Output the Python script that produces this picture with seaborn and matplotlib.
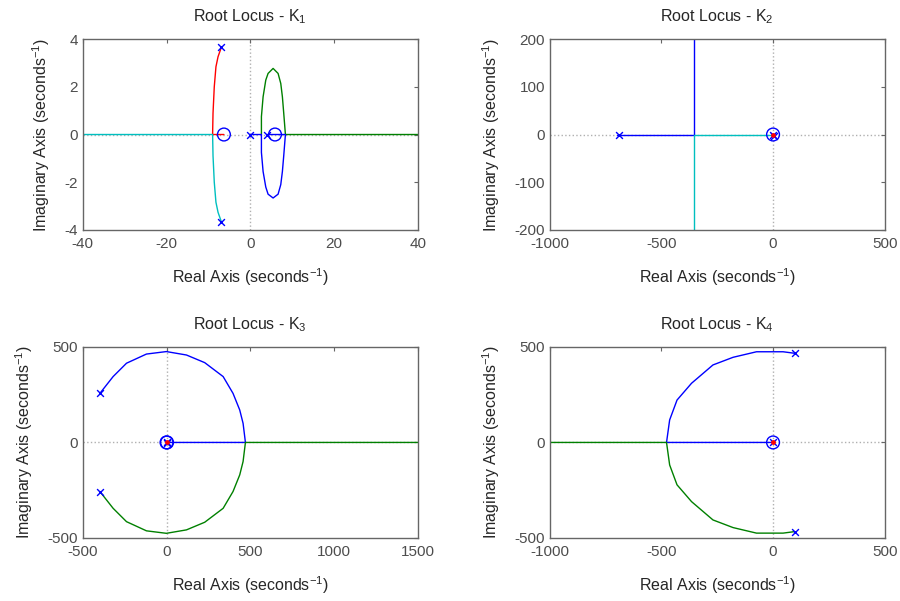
import numpy as np
import pandas as pd
import matplotlib
matplotlib.use("Agg")
import matplotlib.pyplot as plt
import seaborn as sns


BLUE = "#0000ff"
GREEN = "#008000"
RED = "#ff0000"
CYAN = "#00bfbf"

# ---- K1 branches ----
k1_red_x = [-6.9, -7.7, -8.2, -8.6, -8.9, -9.0, -6.3]
k1_red_y = [3.66, 3.26, 2.84, 2.0, 0.89, 0.0, 0.0]
k1_cyan_x = [-6.9, -7.7, -8.2, -8.6, -8.9, -9.0, -40.0]
k1_cyan_y = [-3.66, -3.26, -2.84, -2.0, -0.89, 0.0, 0.0]
k1_green_x = [2.66, 2.66, 3.06, 3.70, 4.25, 5.45, 6.64, 7.28, 7.67, 7.99, 8.39, 40.0]
k1_green_y = [0.0, 0.75, 1.58, 2.28, 2.56, 2.77, 2.56, 2.14, 1.58, 0.89, 0.0, 0.0]
k1_blue_x = [0.0, 2.66, 2.66, 3.06, 3.70, 4.25, 5.45, 6.64, 7.28, 7.67, 7.99, 8.39, 4.0]
k1_blue_y = [0.0, 0.0, -0.75, -1.55, -2.2, -2.5, -2.66, -2.5, -2.1, -1.55, -0.89, 0.0, 0.0]
k1_pole_x = [-6.9, -6.9, 0.0, 4.0]
k1_pole_y = [3.66, -3.66, 0.0, 0.0]
k1_zero_x = [-6.3, 5.9]
k1_zero_y = [0.0, 0.0]

# ---- K2 ----
k2_blue_x = [-697, -354, -354]
k2_blue_y = [0, 0, 250]
k2_cyan_x = [0, -354, -354]
k2_cyan_y = [0, 0, -250]
k2_pole_x = [-690, 0, 6]
k2_pole_y = [0, 0, -4]
k2_zero_x = [0]
k2_zero_y = [0]

# ---- K3 ----
k3_arc_x = [-398, -319, -239, -120, -1, 119, 228, 338, 397, 437, 457, 471]
k3_arc_y = [257, 345, 415, 463, 476, 458, 418, 345, 257, 170, 100, 0]
k3_blue_x = k3_arc_x + [0]
k3_blue_y = k3_arc_y + [0]
k3_green_x = k3_arc_x + [1500]
k3_green_y = [-v for v in k3_arc_y] + [0]
k3_pole_x = [-398, -398, 0, 5]
k3_pole_y = [257, -257, 0, -4]
k3_zero_x = [0, 3]
k3_zero_y = [0, 0]

# ---- K4 ----
k4_arc_x = [97, 45, -74, -179, -269, -365, -430, -463, -477]
k4_arc_y = [467, 475, 475, 446, 406, 310, 222, 118, 0]
k4_blue_x = k4_arc_x + [0]
k4_blue_y = k4_arc_y + [0]
k4_green_x = k4_arc_x + [-1000]
k4_green_y = [-v for v in k4_arc_y] + [0]
k4_pole_x = [97, 97, 0]
k4_pole_y = [467, -467, 0]
k4_zero_x = [0]
k4_zero_y = [0]

TITLES = ["Root Locus - K$_1$", "Root Locus - K$_2$", "Root Locus - K$_3$", "Root Locus - K$_4$"]


def draw_branch(ax, xs, ys, color):
    df = pd.DataFrame({"x": xs, "y": ys})
    sns.lineplot(data=df, x="x", y="y", ax=ax, sort=False, estimator=None,
                 color=color, linewidth=1.0)


def draw_markers(ax, px, py, zx, zy, red_dot=False):
    ax.scatter(px, py, marker="x", color=BLUE, s=24, linewidths=1.0, zorder=5)
    ax.scatter(zx, zy, marker="o", facecolors="none", edgecolors=BLUE, s=85,
               linewidths=1.0, zorder=5)
    if red_dot:
        ax.scatter([0], [0], marker="o", color=RED, s=6, zorder=6)


def style_axes(ax, title, xlim, ylim, xticks, yticks):
    ax.axhline(0, color="#b0b0b0", linestyle=":", linewidth=1.0, zorder=0)
    ax.axvline(0, color="#b0b0b0", linestyle=":", linewidth=1.0, zorder=0)
    ax.set_xlim(*xlim)
    ax.set_ylim(*ylim)
    ax.set_xticks(xticks)
    ax.set_yticks(yticks)
    ax.set_title(title, fontsize=11.5, pad=13)
    ax.set_xlabel("Real Axis (seconds$^{-1}$)", fontsize=11.5, labelpad=11)
    ax.set_ylabel("Imaginary Axis (seconds$^{-1}$)", fontsize=11.5, labelpad=9)
    ax.tick_params(direction="in", top=True, right=True, length=3, width=0.8,
                   colors="#666666", labelcolor="#4d4d4d", labelsize=11)
    ax.tick_params(axis="x", pad=5)
    for sp in ax.spines.values():
        sp.set_visible(True)
        sp.set_color("#666666")
        sp.set_linewidth(1.0)


def main():
    sns.set_style("white")
    plt.rcParams["font.family"] = ["Liberation Sans", "DejaVu Sans"]
    plt.rcParams["mathtext.default"] = "regular"
    plt.rcParams["axes.unicode_minus"] = False

    fig, axes = plt.subplots(2, 2, figsize=(9, 6.01), dpi=100)
    plt.subplots_adjust(left=0.092, right=0.983, top=0.935, bottom=0.105,
                        wspace=0.394, hspace=0.613)
    ax1, ax2, ax3, ax4 = axes.flatten()

    draw_branch(ax1, k1_red_x, k1_red_y, RED)
    draw_branch(ax1, k1_cyan_x, k1_cyan_y, CYAN)
    draw_branch(ax1, k1_green_x, k1_green_y, GREEN)
    draw_branch(ax1, k1_blue_x, k1_blue_y, BLUE)
    draw_markers(ax1, k1_pole_x, k1_pole_y, k1_zero_x, k1_zero_y)
    style_axes(ax1, TITLES[0], (-40, 40), (-4, 4), [-40, -20, 0, 20, 40], [-4, -2, 0, 2, 4])

    draw_branch(ax2, k2_blue_x, k2_blue_y, BLUE)
    draw_branch(ax2, k2_cyan_x, k2_cyan_y, CYAN)
    draw_markers(ax2, k2_pole_x, k2_pole_y, k2_zero_x, k2_zero_y, red_dot=True)
    style_axes(ax2, TITLES[1], (-1000, 500), (-200, 200), [-1000, -500, 0, 500],
               [-200, -100, 0, 100, 200])

    draw_branch(ax3, k3_blue_x, k3_blue_y, BLUE)
    draw_branch(ax3, k3_green_x, k3_green_y, GREEN)
    draw_markers(ax3, k3_pole_x, k3_pole_y, k3_zero_x, k3_zero_y, red_dot=True)
    style_axes(ax3, TITLES[2], (-500, 1500), (-500, 500), [-500, 0, 500, 1000, 1500],
               [-500, 0, 500])

    draw_branch(ax4, k4_blue_x, k4_blue_y, BLUE)
    draw_branch(ax4, k4_green_x, k4_green_y, GREEN)
    draw_markers(ax4, k4_pole_x, k4_pole_y, k4_zero_x, k4_zero_y, red_dot=True)
    style_axes(ax4, TITLES[3], (-1000, 500), (-500, 500), [-1000, -500, 0, 500],
               [-500, 0, 500])

    fig.savefig("out.png", dpi=100)
    plt.close(fig)


if __name__ == "__main__":
    main()
